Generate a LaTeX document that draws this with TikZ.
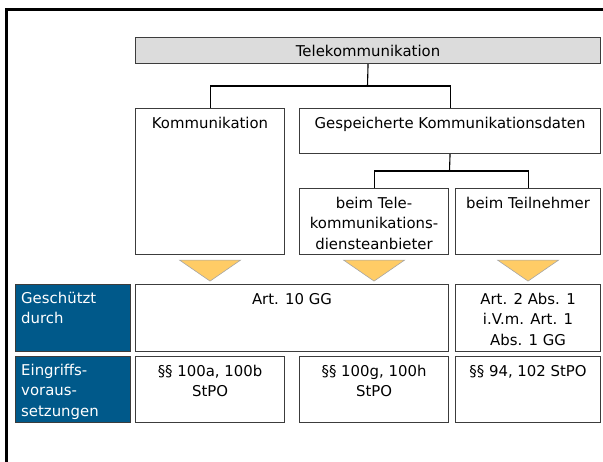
\documentclass[tikz,border=0pt]{standalone}
\usepackage{fontspec}
\setmainfont{DejaVu Sans}
\usetikzlibrary{calc}
\definecolor{boxgray}{HTML}{DCDCDC}
\definecolor{deepblue}{HTML}{00598A}
\definecolor{triyellow}{HTML}{FFCC66}
\definecolor{edge}{HTML}{3C3C3C}
\begin{document}
\begin{tikzpicture}[x=1pt, y=-1pt,
  font=\fontsize{14.9}{20.3}\selectfont,
  bx/.style={rectangle, draw=edge, line width=1.1pt, fill=white, inner sep=0pt, anchor=north west},
  bluebx/.style={bx, fill=deepblue, draw=edge},
  txt/.style={anchor=north, inner sep=0pt, align=center},
  wtxt/.style={anchor=north west, inner sep=0pt, align=left, text=white},
  conn/.style={draw=black, line width=1.1pt},
  tri/.style={fill=triyellow, draw=gray!70, line width=0.6pt}]
\useasboundingbox (0,0) rectangle (603,461);
% outer frame
\draw[line width=2.5pt] (6.5,480) -- (6.5,9.5) -- (620,9.5);
% top level
\node[bx, fill=boxgray, minimum width=465pt, minimum height=26pt] (tele) at (135,37) {Telekommunikation};
\node[bx, minimum width=149pt, minimum height=146pt] (komm) at (135,108) {};
\node[txt] (kommt) at ($(komm.north)+(0,9)$) {Kommunikation};
\node[bx, minimum width=301pt, minimum height=45pt] (gesp) at (299,108) {};
\node[txt] (gespt) at ($(gesp.north)+(0,9)$) {Gespeicherte Kommunikationsdaten};
\node[bx, minimum width=149pt, minimum height=66pt] (btel) at (299,188) {};
\node[txt] (btelt) at ($(btel.north)+(0,9)$) {beim Tele-\\kommunikations-\\diensteanbieter};
\node[bx, minimum width=145pt, minimum height=66pt] (btn) at (455,188) {};
\node[txt] (btnt) at ($(btn.north)+(0,9)$) {beim Teilnehmer};
% connectors
\coordinate (j1) at (367.5,86);
\draw[conn] (tele.south) -- (j1);
\draw[conn] (komm.north) |- (j1) -| (gesp.north);
\coordinate (j2) at (449.5,171);
\draw[conn] (gesp.south) -- (j2);
\draw[conn] (btel.north) |- (j2) -| (btn.north);
% triangles
\foreach \b in {komm,btel,btn}{
  \draw[tri] ($(\b.south)+(-30.5,5)$) -- ($(\b.south)+(30.5,5)$) -- ($(\b.south)+(0,26)$) -- cycle;
}
% row 1
\node[bluebx, minimum width=115pt, minimum height=67pt] (gesch) at (15,284) {};
\node[wtxt] (gescht) at ($(gesch.north west)+(6,8)$) {Geschützt\\durch};
\node[bx, minimum width=313pt, minimum height=67pt] (art10) at (135,284) {};
\node[txt] (art10t) at ($(art10.north)+(0,9)$) {Art. 10 GG};
\node[bx, minimum width=145pt, minimum height=67pt] (art2) at (455,284) {};
\node[txt] (art2t) at ($(art2.north)+(0,9)$) {Art. 2 Abs. 1\\i.V.m. Art. 1\\Abs. 1 GG};
% row 2
\node[bluebx, minimum width=115pt, minimum height=66pt] (eing) at (15,356) {};
\node[wtxt] (eingt) at ($(eing.north west)+(6,8)$) {Eingriffs-\\voraus-\\setzungen};
\node[bx, minimum width=149pt, minimum height=66pt] (sa) at (135,356) {};
\node[txt] (sat) at ($(sa.north)+(0,9)$) {§§ 100a, 100b\\StPO};
\node[bx, minimum width=149pt, minimum height=66pt] (sg) at (299,356) {};
\node[txt] (sgt) at ($(sg.north)+(0,9)$) {§§ 100g, 100h\\StPO};
\node[bx, minimum width=145pt, minimum height=66pt] (s94) at (455,356) {};
\node[txt] (s94t) at ($(s94.north)+(0,9)$) {§§ 94, 102 StPO};
\end{tikzpicture}
\end{document}
